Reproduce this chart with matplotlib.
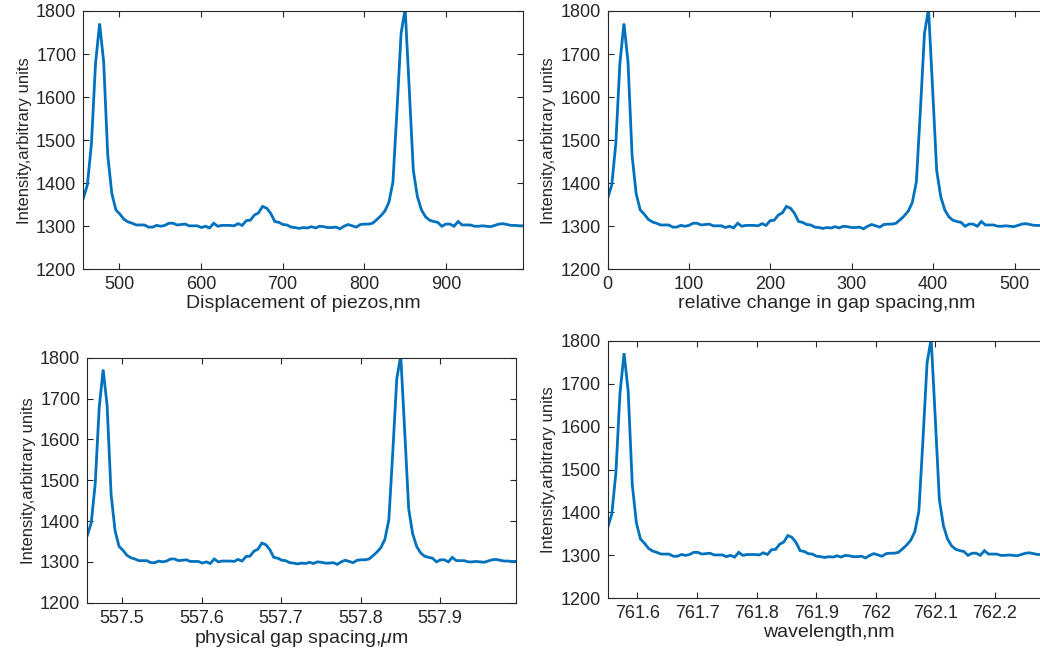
import numpy as np
import matplotlib
matplotlib.use("Agg")
import matplotlib.pyplot as plt
from matplotlib.ticker import MultipleLocator, FuncFormatter

# ---- data ----
intensity = [
    1365, 1396, 1492, 1678, 1771, 1682, 1465, 1376, 1338, 1328,
    1316, 1310, 1307, 1303, 1303, 1303, 1298, 1298, 1302, 1300,
    1302, 1307, 1307, 1303, 1304, 1305, 1301, 1301, 1301, 1297,
    1300, 1296, 1307, 1300, 1302, 1302, 1302, 1301, 1306, 1302,
    1313, 1314, 1326, 1331, 1346, 1342, 1330, 1311, 1309, 1304,
    1303, 1298, 1297, 1295, 1297, 1296, 1299, 1296, 1300, 1299,
    1297, 1297, 1298, 1294, 1300, 1304, 1301, 1298, 1304, 1305,
    1305, 1307, 1315, 1324, 1335, 1355, 1403, 1570, 1748, 1805,
    1620, 1430, 1369, 1338, 1322, 1314, 1311, 1309, 1300, 1305,
    1305, 1300, 1311, 1303, 1303, 1303, 1300, 1300, 1301, 1300,
    1299, 1302, 1305, 1306, 1304, 1302, 1302, 1301, 1301,
]
disp_start = 455.9      # nm, first piezo displacement
disp_step = 4.99        # nm per sample
gap_start = 557.4563    # um, physical gap at first sample
wl_start = 761.550      # nm, wavelength at first sample
wl_per_nm = 0.001377    # nm of wavelength per nm of gap change

displacement = disp_start + disp_step * np.arange(len(intensity))
relative = displacement - displacement[0]
gap_um = gap_start + relative / 1000.0
wavelength = wl_start + relative * wl_per_nm

xlabels = ["Displacement of piezos,nm", "relative change in gap spacing,nm",
           r"physical gap spacing,$\mu$m", "wavelength,nm"]
ylabel = "Intensity,arbitrary units"

# ---- style ----
W, H = 1040, 650
fig = plt.figure(figsize=(W / 100, H / 100), dpi=100)
plt.rcParams['font.family'] = ['Liberation Sans', 'DejaVu Sans']
plt.rcParams['mathtext.fontset'] = 'custom'
plt.rcParams['mathtext.it'] = 'Liberation Sans:italic'
plt.rcParams['mathtext.rm'] = 'Liberation Sans'

line_color = '#0072BD'
axis_color = '#262626'
text_color = '#262626'


def px_axes(left, right, top, bottom):
    return fig.add_axes([left / W, 1 - bottom / H, (right - left) / W, (bottom - top) / H])


def fmt(v, pos):
    return '{:g}'.format(round(v, 3))


panels = [
    (px_axes(83.3, 523.3, 11, 269.3), displacement, 100, xlabels[0]),
    (px_axes(607.7, 1046.3, 11, 269.3), relative, 100, xlabels[1]),
    (px_axes(87.3, 515.8, 357.7, 602.7), gap_um, 0.1, xlabels[2]),
    (px_axes(607.7, 1049.9, 340.7, 598.3), wavelength, 0.1, xlabels[3]),
]

for ax, x, step, xl in panels:
    ax.plot(x, intensity, color=line_color, lw=2.0, solid_joinstyle='miter')
    ax.set_xlim(x[0], x[-1])
    ax.set_ylim(1200, 1800)
    ax.xaxis.set_major_locator(MultipleLocator(step))
    ax.xaxis.set_major_formatter(FuncFormatter(fmt))
    ax.yaxis.set_major_locator(MultipleLocator(100))
    ax.tick_params(direction='in', length=4, width=0.8, colors=axis_color,
                   labelcolor=text_color, labelsize=13, top=True, right=True, pad=5)
    for s in ax.spines.values():
        s.set_color(axis_color)
        s.set_linewidth(0.8)
    ax.set_xlabel(xl, fontsize=14, color=text_color, labelpad=1)
    ax.set_ylabel(ylabel, fontsize=12, color=text_color, labelpad=3)

fig.savefig("out.png", dpi=100)
